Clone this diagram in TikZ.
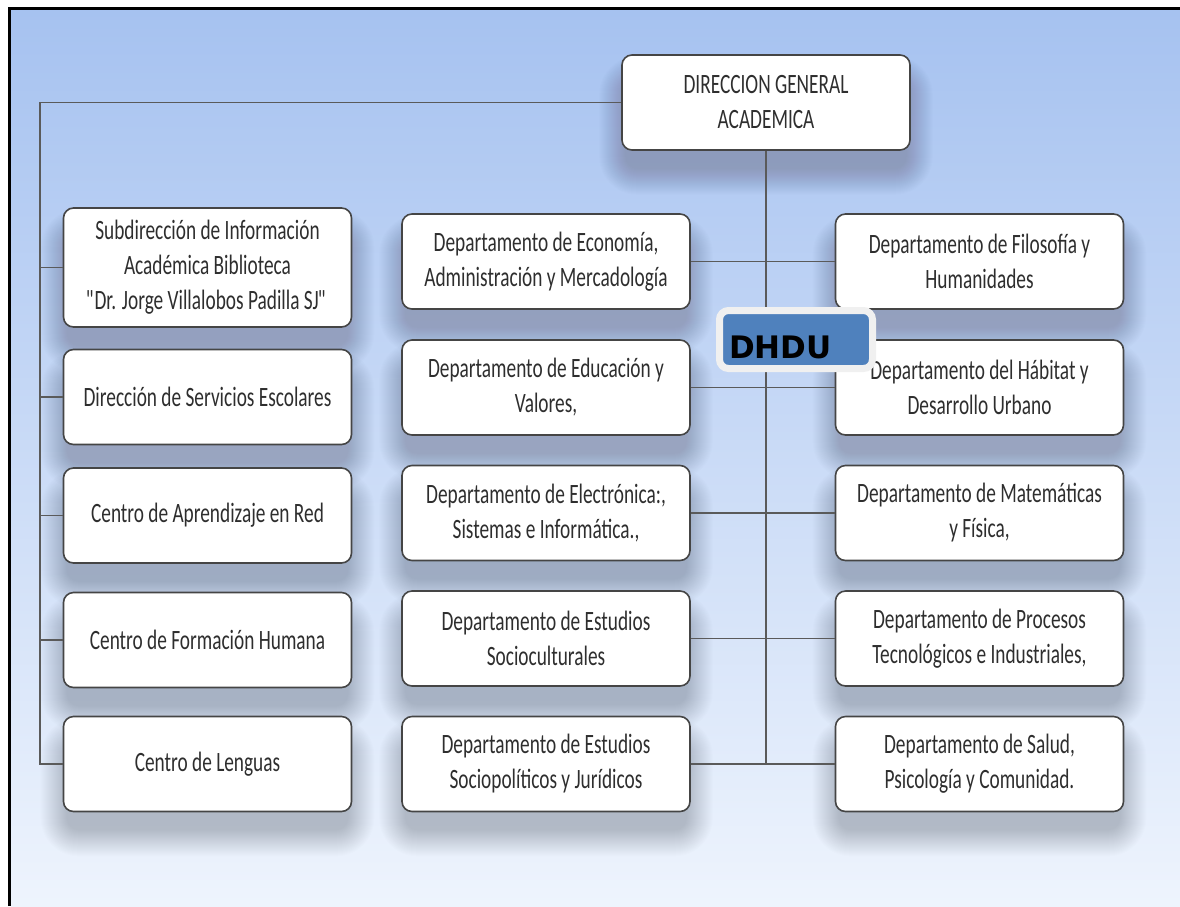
\documentclass[tikz,border=0pt]{standalone}
\usepackage{fontspec}
\setmainfont{Carlito}[FakeStretch=0.69]
\newfontfamily\dhdufont{DejaVu Sans}

\definecolor{bgtop}{HTML}{A6C2F0}
\definecolor{bgbottom}{HTML}{EEF4FD}
\definecolor{framegray}{HTML}{454545}
\definecolor{linkgray}{HTML}{5A5A5A}
\definecolor{labelgray}{HTML}{2E2E2E}
\definecolor{badgeblue}{HTML}{4F81BD}
\definecolor{badgerim}{HTML}{F0F0F0}
\definecolor{shadowtone}{HTML}{20242E}

\pgfdeclarelayer{page}
\pgfdeclarelayer{shade}
\pgfsetlayers{page,shade,main}

\tikzset{
  orgbox/.style={draw=framegray, line width=1.6pt, rounded corners=10pt, fill=white,
    minimum width=288pt, minimum height=95pt, align=center, text=labelgray,
    font=\fontsize{28}{35}\selectfont, inner sep=2pt},
  link/.style={draw=linkgray, line width=1.5pt},
  badge/.style={draw=badgerim, line width=7pt, rounded corners=9pt, fill=badgeblue,
    text width=134pt, inner xsep=9.5pt, inner ysep=0pt, minimum height=58pt,
    align=left, text height=37pt, text depth=0pt,
    font=\dhdufont\bfseries\fontsize{31}{31}\selectfont, text=black},
}

\begin{document}
\begin{tikzpicture}[x=1pt, y=-1pt]
  \useasboundingbox (0,0) rectangle (1180,906);

  % head of the chart
  \node[orgbox] (top) at (766,102.5) {DIRECCION GENERAL\\ACADEMICA};

  % left column
  \node[orgbox, minimum height=119pt] (l1) at (207.5,267.5)
    {Subdirección de Información\\Académica Biblioteca\\\textquotedbl\kern-2.5pt Dr. Jorge Villalobos Padilla SJ\kern-1pt\textquotedbl};
  \node[orgbox] (l2) at (207.5,397) {Dirección de Servicios Escolares};
  \node[orgbox] (l3) at (207.5,515.5) {Centro de Aprendizaje en Red};
  \node[orgbox] (l4) at (207.5,640) {Centro de Formación Humana};
  \node[orgbox] (l5) at (207.5,764) {Centro de Lenguas};

  % middle column
  \node[orgbox] (m1) at (546,261.5) {Departamento de Economía,\\Administración y Mercadología};
  \node[orgbox] (m2) at (546,387.5) {Departamento de Educación y\\Valores,};
  \node[orgbox] (m3) at (546,513) {Departamento de Electrónica:,\\Sistemas e Informática.,};
  \node[orgbox] (m4) at (546,638.5) {Departamento de Estudios\\Socioculturales};
  \node[orgbox] (m5) at (546,764) {Departamento de Estudios\\Sociopolíticos y Jurídicos};

  % right column
  \node[orgbox] (r1) at (979.5,261.5) {Departamento de Filosofía y\\Humanidades};
  \node[orgbox] (r2) at (979.5,387.5) {Departamento del Hábitat y\\Desarrollo Urbano};
  \node[orgbox] (r3) at (979.5,513) {Departamento de Matemáticas\\y Física,};
  \node[orgbox] (r4) at (979.5,638.5) {Departamento de Procesos\\Tecnológicos e Industriales,};
  \node[orgbox] (r5) at (979.5,764) {Departamento de Salud,\\Psicología y Comunidad.};

  % page background and frame
  \begin{pgfonlayer}{page}
    \fill[white] (0,0) rectangle (1180,906);
    \shade[top color=bgtop, bottom color=bgbottom] (11,10) rectangle (1180,906);
    \draw[black, line width=3pt] (9.5,906) -- (9.5,8.5) -- (1180,8.5);
  \end{pgfonlayer}

  % soft drop shadows under the boxes, built from stacked translucent plates
  \begin{pgfonlayer}{shade}
    \foreach \n in {top,l1,l2,l3,l4,l5,m1,m2,m3,m4,m5,r1,r2,r3,r4,r5}
      \foreach \k in {0,...,26} {
        \pgfmathsetmacro\rad{12+\k}
        \fill[shadowtone, opacity=0.0095, rounded corners=\rad pt]
          ([xshift=4pt-\k pt, yshift=-18pt-\k pt]\n.south west)
          rectangle ([xshift=-4pt+\k pt, yshift=-28pt+\k pt]\n.north east);
      }
  \end{pgfonlayer}

  % left spine
  \coordinate (spine) at (40,102.5);
  \draw[link] (top.west) -- (spine) -- (spine |- l5.west) -- (l5.west);
  \foreach \b in {l1,l2,l3,l4}
    \draw[link] (\b.west) -- (\b.west -| spine);

  % central spine
  \draw[link] (top.south) -- (top.south |- r5.west);
  \foreach \i in {1,...,5}
    \draw[link] (m\i.east) -- (r\i.west);

  % badge over the spine
  \node[badge] (dhdu) at (796,339.5) {DHDU};
\end{tikzpicture}
\end{document}
